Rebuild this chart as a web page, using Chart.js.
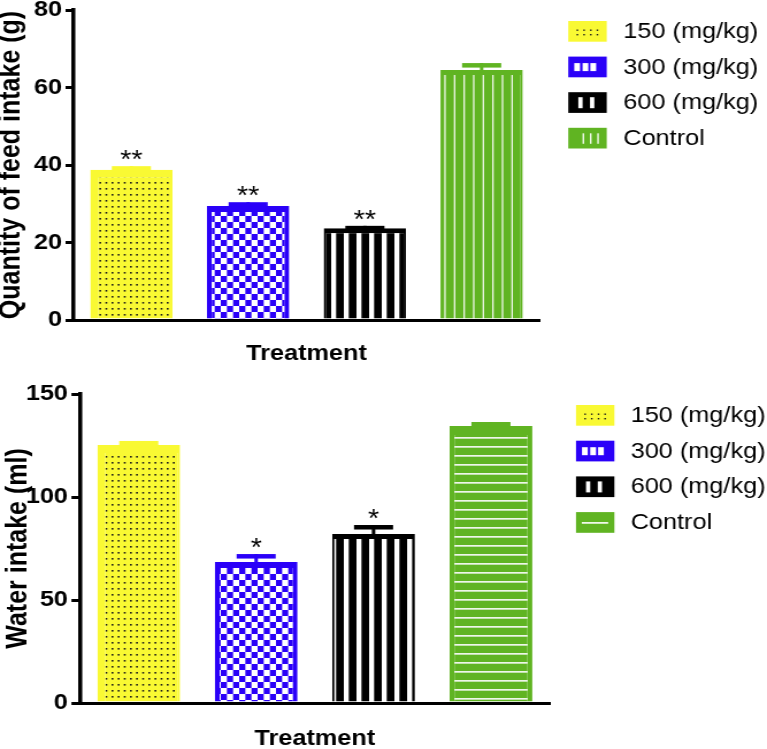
<!DOCTYPE html>
<html>
<head>
<meta charset="utf-8">
<script src="https://cdn.jsdelivr.net/npm/chart.js@4.4.1/dist/chart.umd.min.js"></script>
<style>
  body { margin: 0; background: #fff; }
  canvas { position: absolute; left: 0; }
</style>
</head>
<body>
<canvas id="feedChart" width="667" height="370" style="top:0;width:767px;height:370px"></canvas>
<canvas id="waterChart" width="667" height="379" style="top:370px;width:767px;height:379px"></canvas>
<script>
// data
var groups = ['150 (mg/kg)', '300 (mg/kg)', '600 (mg/kg)', 'Control'];

var feedMeans = [38.8, 29.4, 23.7, 64.5];
var feedErrors = [0.9, 1.0, 0.6, 1.8];
var feedStars = ['**', '**', '**', ''];
var feedTicks = [0, 20, 40, 60, 80];

var waterMeans = [125.2, 68.4, 82.0, 134.5];
var waterErrors = [2.0, 3.9, 4.4, 1.9];
var waterStars = ['', '*', '*', ''];
var waterTicks = [0, 50, 100, 150];

var YELLOW = '#f9f933';
var BLUE = '#2a00f8';
var BLACK = '#000000';
var GREEN = '#60b422';
var colors = [YELLOW, BLUE, BLACK, GREEN];
var FONT = "'Liberation Sans', Arial, sans-serif";

// the figure is a bit wider than tall, so canvases are drawn 667 wide and stretched to 767
function pattern(ctx, w, h, bg, draw) {
  var c = document.createElement('canvas');
  c.width = w; c.height = h;
  var g = c.getContext('2d');
  g.fillStyle = bg;
  g.fillRect(0, 0, w, h);
  draw(g);
  return ctx.createPattern(c, 'repeat');
}

function dots(ctx) {
  return pattern(ctx, 16, 6, YELLOW, function (g) {
    g.fillStyle = '#1a1a1a';
    [1, 6.33, 11.67].forEach(function (x) { g.fillRect(x, 2, 1.6, 1.6); });
  });
}
function checks(ctx) {
  return pattern(ctx, 32, 12, '#ffffff', function (g) {
    g.fillStyle = BLUE;
    for (var i = 0; i < 6; i++) {
      for (var j = 0; j < 2; j++) {
        if ((i + j) % 2 === 0) g.fillRect(i * 32 / 6, j * 6, 32 / 6, 6);
      }
    }
  });
}
function blackStripes(ctx) {
  return pattern(ctx, 22, 4, BLACK, function (g) {
    g.fillStyle = '#ffffff';
    g.fillRect(2, 0, 4.3, 4);
    g.fillRect(13, 0, 4.3, 4);
  });
}
function greenVertical(ctx) {
  return pattern(ctx, 25, 4, GREEN, function (g) {
    g.fillStyle = '#eef6e8';
    [3, 11.33, 19.67].forEach(function (x) { g.fillRect(x, 0, 1.3, 4); });
  });
}
function greenHorizontal(ctx) {
  return pattern(ctx, 4, 9, GREEN, function (g) {
    g.fillStyle = '#eef6e8';
    g.fillRect(0, 4, 4, 1.7);
  });
}

// legend swatches (small versions of the fills)
function swatch(ctx, kind, x, y, w, h) {
  ctx.fillStyle = kind === 'dots' ? YELLOW : kind === 'checks' ? BLUE : kind === 'bars' ? BLACK : GREEN;
  ctx.fillRect(x, y, w, h);
  ctx.fillStyle = kind === 'dots' ? '#1a1a1a' : '#ffffff';
  if (kind === 'dots') {
    [7.2, 13, 18.9, 24.6].forEach(function (dx) {
      ctx.fillRect(x + dx, y + 8.5, 1.4, 1.4);
      ctx.fillRect(x + dx, y + 13, 1.4, 1.4);
    });
  } else if (kind === 'checks') {
    [5.2, 12.4, 19.2].forEach(function (dx) { ctx.fillRect(x + dx, y + 6.5, 5, 8); });
  } else if (kind === 'bars') {
    [8.7, 18.9].forEach(function (dx) { ctx.fillRect(x + dx, y + 5, 3.7, 11); });
  } else if (kind === 'vlines') {
    [12.4, 18.9, 25.2].forEach(function (dx) { ctx.fillRect(x + dx, y + 5.5, 1.3, 10.5); });
  } else {
    ctx.fillRect(x + 5, y + 10, 23, 1.6);
  }
}

function overlay(means, errors, stars, legend) {
  return {
    id: 'overlay',
    afterDatasetsDraw: function (chart) {
      var ctx = chart.ctx;
      var y = chart.scales.y;
      var meta = chart.getDatasetMeta(0);
      ctx.save();
      meta.data.forEach(function (bar, i) {
        var top = y.getPixelForValue(means[i] + errors[i]);
        ctx.fillStyle = colors[i];
        ctx.fillRect(bar.x - 1.5, top, 3, bar.y - top + 2);
        ctx.fillRect(bar.x - 17, top, 34, 4.5);
        if (stars[i]) {
          ctx.fillStyle = '#000';
          ctx.font = '25px ' + FONT;
          ctx.textAlign = 'center';
          ctx.textBaseline = 'alphabetic';
          ctx.fillText(stars[i], bar.x, top + 2);
        }
      });
      ctx.restore();
    },
    afterDraw: function (chart) {
      var ctx = chart.ctx;
      ctx.save();
      groups.forEach(function (label, i) {
        var top = legend.top + i * legend.step;
        swatch(ctx, legend.kinds[i], legend.x, top, 33.4, 20.7);
        ctx.fillStyle = '#000';
        ctx.font = '22px ' + FONT;
        ctx.textAlign = 'left';
        ctx.textBaseline = 'middle';
        ctx.fillText(label, legend.textX, top + 11);
      });
      ctx.restore();
    }
  };
}

function makeChart(id, means, errors, stars, ticks, yTitle, g, fills, borders, legend) {
  var canvas = document.getElementById(id);
  var ctx = canvas.getContext('2d');
  return new Chart(ctx, {
    type: 'bar',
    data: {
      labels: groups,
      datasets: [{
        data: means,
        backgroundColor: fills.map(function (f) { return f(ctx); }),
        borderColor: colors,
        borderWidth: borders,
        borderSkipped: 'bottom',
        barPercentage: 0.705,
        categoryPercentage: 1
      }]
    },
    options: {
      responsive: false,
      devicePixelRatio: 1,
      animation: false,
      layout: { padding: { left: 0, top: g.top, right: g.right, bottom: 0 } },
      plugins: { legend: { display: false }, tooltip: { enabled: false } },
      scales: {
        x: {
          ticks: { display: false },
          grid: { display: false },
          border: { color: '#000', width: 3 },
          title: {
            display: true, text: 'Treatment', color: '#000',
            font: { family: FONT, size: 22, weight: 'bold', lineHeight: 1 },
            padding: { top: 0, bottom: g.titlePad }
          },
          afterFit: function (s) { s.height = g.xHeight; s.paddingLeft = 0; s.paddingRight = 0; }
        },
        y: {
          min: ticks[0],
          max: ticks[ticks.length - 1],
          afterBuildTicks: function (s) { s.ticks = ticks.map(function (v) { return { value: v }; }); },
          ticks: { color: '#000', padding: 3, font: { family: FONT, size: 22, weight: 'bold' } },
          grid: { drawOnChartArea: false, color: '#000', lineWidth: 3, tickLength: g.tick },
          border: { color: '#000', width: 3.5 },
          title: {
            display: true, text: yTitle, color: '#000',
            font: { family: FONT, size: 25, weight: 'bold', lineHeight: 1 },
            padding: { top: g.yTitlePad, bottom: 0 }
          },
          afterFit: function (s) { s.width = g.yWidth; s.paddingTop = 0; s.paddingBottom = 0; }
        }
      }
    },
    plugins: [overlay(means, errors, stars, legend)]
  });
}

makeChart('feedChart', feedMeans, feedErrors, feedStars, feedTicks,
  'Quantity of feed intake (g)',
  { top: 10, right: 197.4, xHeight: 50, yWidth: 63.5, titlePad: 5, yTitlePad: -2, tick: 6.5 },
  [dots, checks, blackStripes, greenVertical],
  [{ top: 8, left: 7, right: 2 }, { top: 6, left: 4.3, right: 4.3 }, { top: 5, left: 2, right: 2 }, { top: 5, left: 2, right: 2 }],
  { x: 494.2, textX: 542, top: 21, step: 35.6, kinds: ['dots', 'checks', 'bars', 'vlines'] });

makeChart('waterChart', waterMeans, waterErrors, waterStars, waterTicks,
  'Water intake (ml)',
  { top: 24, right: 189, xHeight: 46, yWidth: 69.6, titlePad: -1, yTitlePad: 3.5, tick: 7.5 },
  [dots, checks, blackStripes, greenHorizontal],
  [{ top: 8, left: 7, right: 2 }, { top: 6, left: 4.3, right: 4.3 }, { top: 5, left: 2, right: 2 }, { top: 9, left: 4.3, right: 4.3 }],
  { x: 500.9, textX: 548.4, top: 35, step: 35.7, kinds: ['dots', 'checks', 'bars', 'hline'] });
</script>
</body>
</html>
